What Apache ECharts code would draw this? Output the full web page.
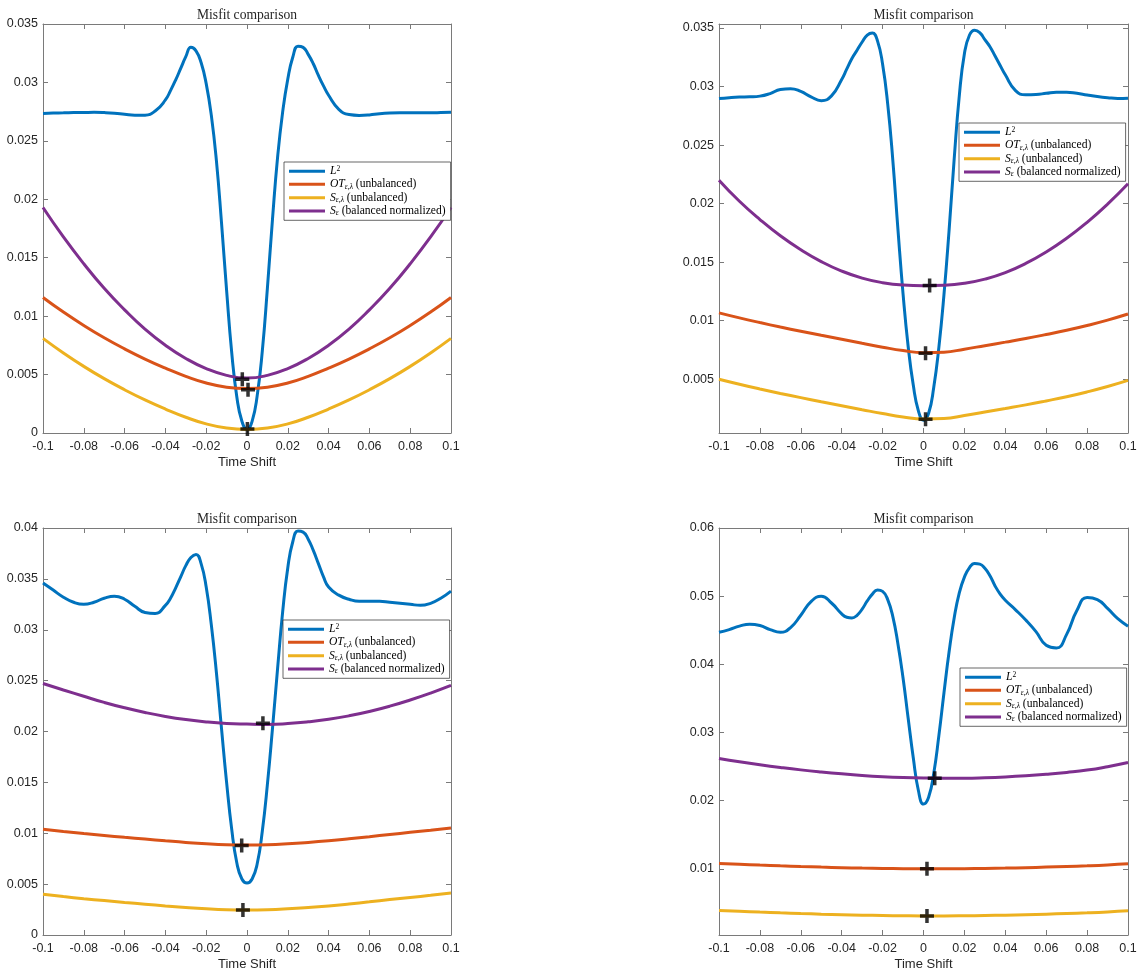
<!DOCTYPE html>
<html><head><meta charset="utf-8">
<script src="https://cdn.jsdelivr.net/npm/echarts@6/dist/echarts.min.js"></script>
<style>html,body{margin:0;padding:0;background:#fff}#c{width:1141px;height:972px}</style>
</head><body><div id="c"></div>
<script>
// ---------- x samples ----------
const xL2 = [-0.1,-0.095,-0.09,-0.085,-0.08,-0.075,-0.07,-0.065,-0.06,-0.055,-0.05,-0.045,-0.04,
  -0.0375,-0.035,-0.0325,-0.03,-0.0275,-0.025,-0.0225,-0.02,-0.0175,-0.015,-0.0125,-0.01,-0.0075,-0.005,-0.0025,0,
  0.0025,0.005,0.0075,0.01,0.0125,0.015,0.0175,0.02,0.0225,0.025,0.0275,0.03,0.0325,0.035,0.0375,
  0.04,0.045,0.05,0.055,0.06,0.065,0.07,0.075,0.08,0.085,0.09,0.095,0.1];
const xCoarse = [-0.1,-0.09,-0.08,-0.07,-0.06,-0.05,-0.04,-0.03,-0.02,-0.01,0,0.01,0.02,0.03,0.04,0.05,0.06,0.07,0.08,0.09,0.1];
const xTicks = [-0.1,-0.08,-0.06,-0.04,-0.02,0,0.02,0.04,0.06,0.08,0.1];

// ---------- panel 1 (top-left) ----------
const p1_L2 = [0.02735,0.02738,0.0274,0.02742,0.02743,0.02744,0.02742,0.02737,0.02728,0.0272,0.0272,0.02755,0.0285,
  0.0293,0.0302,0.0312,0.0322,0.0330,0.0327,0.0317,0.0299,0.0272,0.0233,0.0180,0.0122,0.0069,0.0031,0.0010,0.0003,
  0.0010,0.0032,0.0070,0.0124,0.0183,0.0236,0.0275,0.0303,0.0322,0.0331,0.0330,0.0324,0.0316,0.0306,0.0297,
  0.0289,0.0277,0.02725,0.02718,0.02722,0.02732,0.02738,0.0274,0.0274,0.0274,0.0274,0.02742,0.02745];
const p1_OT = [0.0116,0.01035,0.0092,0.00815,0.0072,0.00633,0.00555,0.00485,0.00428,0.00392,0.0038,0.00392,0.00428,0.00485,0.00555,0.00633,0.0072,0.00815,0.0092,0.01035,0.0116];
const p1_S  = [0.0081,0.00685,0.0057,0.00465,0.0037,0.00283,0.00205,0.00135,0.00078,0.00042,0.0003,0.00042,0.00078,0.00135,0.00205,0.00283,0.0037,0.00465,0.0057,0.00685,0.0081];
const p1_Se = [0.0193,0.01678,0.01448,0.01238,0.01054,0.00889,0.00751,0.00638,0.00551,0.00493,0.0047,0.00493,0.00551,0.00638,0.00751,0.00889,0.01054,0.01238,0.01448,0.01678,0.0193];
const p1_markX = [-0.0023,0.0005,0.0002];
const p1_markY = [0.0046,0.0037,0.00034];
const p1_yTicks = [0,0.005,0.01,0.015,0.02,0.025,0.03,0.035];

// ---------- panel 2 (top-right) ----------
const p2_L2 = [0.02898,0.02905,0.0291,0.02912,0.02918,0.0294,0.02975,0.02982,0.02958,0.02912,0.02879,0.0292,0.0306,
  0.0315,0.0324,0.0331,0.0338,0.0344,0.03457,0.0339,0.0319,0.0285,0.0237,0.0178,0.0123,0.0078,0.0045,0.0023,0.0015,
  0.0021,0.0043,0.0077,0.0122,0.0177,0.0238,0.0292,0.0328,0.0344,0.0348,0.0346,0.0340,0.0334,0.0326,0.0318,
  0.0310,0.02965,0.0293,0.02932,0.02942,0.02952,0.02952,0.02942,0.02928,0.02915,0.02905,0.02898,0.029];
const p2_OT = [0.01067,0.01024,0.00984,0.00946,0.0091,0.00875,0.00841,0.00807,0.00774,0.00745,0.00727,0.00731,0.00757,0.00787,0.00817,0.00848,0.00882,0.00918,0.00959,0.01005,0.01057];
const p2_S  = [0.0050,0.00457,0.00417,0.00379,0.00343,0.00308,0.00274,0.0024,0.00207,0.00178,0.0016,0.00164,0.0019,0.0022,0.0025,0.00281,0.00315,0.00351,0.00392,0.00438,0.0049];
const p2_Se = [0.0220,0.0202,0.01864,0.01725,0.01606,0.01505,0.01424,0.01364,0.01325,0.01304,0.01298,0.01302,0.01319,0.01355,0.01411,0.01489,0.01587,0.01704,0.0184,0.01995,0.02169];
const p2_markX = [0.003,0.001,0.001];
const p2_markY = [0.0130,0.00722,0.00158];
const p2_yTicks = [0.005,0.01,0.015,0.02,0.025,0.03,0.035];

// ---------- panel 3 (bottom-left) ----------
const p3_L2 = [0.0346,0.0339,0.0332,0.0327,0.0325,0.0327,0.0331,0.0333,0.0330,0.0323,0.0317,0.0316,0.0324,
  0.0331,0.0341,0.0352,0.0363,0.0371,0.0374,0.0365,0.0342,0.0305,0.0258,0.0203,0.0150,0.0104,0.0071,0.0055,0.0051,
  0.0055,0.0070,0.0102,0.0148,0.0203,0.0262,0.0318,0.0361,0.0387,0.0397,0.0396,0.0389,0.0378,0.0365,0.0352,
  0.0342,0.0334,0.0330,0.0328,0.0328,0.0328,0.0327,0.0326,0.0325,0.0324,0.0326,0.0331,0.0338];
const p3_OT = [0.0104,0.01018,0.00997,0.00978,0.0096,0.00943,0.00926,0.0091,0.00897,0.00888,0.00885,0.00888,0.00897,0.0091,0.00926,0.00945,0.00966,0.00988,0.01009,0.0103,0.01052];
const p3_S  = [0.0040,0.00378,0.00357,0.00338,0.0032,0.00303,0.00286,0.0027,0.00257,0.00248,0.00245,0.00248,0.00257,0.0027,0.00286,0.00305,0.00326,0.00348,0.00369,0.0039,0.00412];
const p3_Se = [0.02472,0.02408,0.02346,0.02286,0.02233,0.02187,0.02148,0.02117,0.02094,0.02079,0.02073,0.0207,0.02078,0.02095,0.0212,0.02154,0.02197,0.02249,0.0231,0.02378,0.02453];
const p3_markX = [0.0078,-0.0026,-0.002];
const p3_markY = [0.0208,0.0088,0.00245];
const p3_yTicks = [0,0.005,0.01,0.015,0.02,0.025,0.03,0.035,0.04];

// ---------- panel 4 (bottom-right) ----------
const p4_L2 = [0.0447,0.0451,0.0456,0.0459,0.0457,0.0451,0.0447,0.0454,0.0472,0.0492,0.0500,0.0490,0.0474,
  0.0469,0.0468,0.0472,0.0481,0.0493,0.0503,0.0509,0.0507,0.0495,0.0470,0.0430,0.0380,0.0321,0.0263,0.0215,0.0195,
  0.0205,0.0240,0.0295,0.0358,0.0418,0.0468,0.0505,0.0528,0.0542,0.0548,0.0547,0.0541,0.0530,0.0515,0.0503,
  0.0494,0.0480,0.0465,0.0448,0.0428,0.0424,0.0444,0.0479,0.0498,0.0495,0.0482,0.0467,0.0456];
const p4_OT = [0.0108,0.01068,0.01056,0.01045,0.01035,0.01026,0.01018,0.01011,0.01006,0.01002,0.01,0.01,0.01002,0.01006,0.01011,0.01018,0.01026,0.01035,0.01045,0.01058,0.01075];
const p4_S  = [0.0039,0.00378,0.00366,0.00355,0.00345,0.00336,0.00328,0.00321,0.00316,0.00312,0.0031,0.0031,0.00312,0.00316,0.00321,0.00328,0.00336,0.00345,0.00355,0.00368,0.00385];
const p4_Se = [0.0262,0.02572,0.02528,0.02488,0.02452,0.02421,0.02394,0.02371,0.02353,0.0234,0.02332,0.02329,0.0233,0.02337,0.02349,0.02366,0.02388,0.02415,0.02449,0.02499,0.0256];
const p4_markX = [0.0055,0.0017,0.0017];
const p4_markY = [0.0233,0.0100,0.0031];
const p4_yTicks = [0.01,0.02,0.03,0.04,0.05,0.06];

const titleText = 'Misfit comparison';
const xName = 'Time Shift';
const seriesNames = ['L2','OT','S','Se'];
const colors = ['#0072BD','#D95319','#EDB120','#7E2F8E'];

const panels = [
  {L2:p1_L2, OT:p1_OT, S:p1_S, Se:p1_Se, mx:p1_markX, my:p1_markY, yt:p1_yTicks, ymin:0, ymax:0.035,
   grid:{left:43,top:24,width:408,height:409}, leg:{left:284,top:162}},
  {L2:p2_L2, OT:p2_OT, S:p2_S, Se:p2_Se, mx:p2_markX, my:p2_markY, yt:p2_yTicks, ymin:0.00041, ymax:0.03534,
   grid:{left:719,top:24,width:409,height:409}, leg:{left:959,top:123}},
  {L2:p3_L2, OT:p3_OT, S:p3_S, Se:p3_Se, mx:p3_markX, my:p3_markY, yt:p3_yTicks, ymin:0, ymax:0.04,
   grid:{left:43,top:528,width:408,height:408}, leg:{left:283,top:620}},
  {L2:p4_L2, OT:p4_OT, S:p4_S, Se:p4_Se, mx:p4_markX, my:p4_markY, yt:p4_yTicks, ymin:0.0003, ymax:0.06,
   grid:{left:719,top:528,width:409,height:408}, leg:{left:960,top:668}}
];

const axisCol = '#7a7a7a';
const txtCol = '#262626';
const sansFont = 'Liberation Sans, Arial, sans-serif';
const serifFont = 'Liberation Serif, Times New Roman, serif';
const fmt = v => String(parseFloat(Number(v).toFixed(4)));

const grids = [], xAxes = [], yAxes = [], series = [], legends = [];
const legendNames = {
  L2: '{i|L}{sup|2}',
  OT: '{i|OT}{sub|ε,λ}{n| (unbalanced)}',
  S:  '{i|S}{sub|ε,λ}{n| (unbalanced)}',
  Se: '{i|S}{sub|ε}{n| (balanced normalized)}'
};
const plusPath = 'path://M4.5,0H7.5V4.5H12V7.5H7.5V12H4.5V7.5H0V4.5H4.5Z';
const lf = 11.6;

panels.forEach((p, gi) => {
  grids.push(Object.assign({containLabel:false}, p.grid));
  const common = {type:'value', gridIndex:gi, min:-0.1, max:0.1, splitLine:{show:false},
    axisLine:{show:true, onZero:false, lineStyle:{color:axisCol, width:1}},
    axisTick:{show:true, inside:true, length:5, lineStyle:{color:axisCol}, customValues:xTicks}};
  xAxes.push(Object.assign({}, common, {position:'bottom',
    axisLabel:{show:true, customValues:xTicks, formatter:fmt, color:txtCol, fontSize:12.5, fontFamily:sansFont, margin:7},
    name:xName, nameLocation:'middle', nameGap:23,
    nameTextStyle:{color:txtCol, fontSize:13, fontFamily:sansFont}}));
  xAxes.push(Object.assign({}, common, {position:'top', axisLabel:{show:false},
    name:titleText, nameLocation:'middle', nameGap:2,
    nameTextStyle:{color:txtCol, fontSize:13.6, fontFamily:serifFont}}));
  const ycommon = {type:'value', gridIndex:gi, min:p.ymin, max:p.ymax, splitLine:{show:false},
    axisLine:{show:true, onZero:false, lineStyle:{color:axisCol, width:1}},
    axisTick:{show:true, inside:true, length:5, lineStyle:{color:axisCol}, customValues:p.yt}};
  yAxes.push(Object.assign({}, ycommon, {position:'left',
    axisLabel:{show:true, customValues:p.yt, formatter:fmt, color:txtCol, fontSize:12.5, fontFamily:sansFont, margin:5}}));
  yAxes.push(Object.assign({}, ycommon, {position:'right', axisLabel:{show:false}}));

  seriesNames.forEach((nm, si) => {
    const xs = nm === 'L2' ? xL2 : xCoarse;
    const ys = p[nm];
    series.push({type:'line', name:nm, xAxisIndex:gi*2, yAxisIndex:gi*2,
      data: xs.map((x,i)=>[x, ys[i]]), showSymbol:false, symbol:'none', smooth:0.5,
      color:colors[si], lineStyle:{width:3, color:colors[si]}, itemStyle:{color:colors[si]},
      z: 2+si*0.1, silent:true, clip:true});
  });
  series.push({type:'scatter', name:'min', xAxisIndex:gi*2, yAxisIndex:gi*2,
    data: p.mx.map((x,i)=>[x, p.my[i]]), symbol:plusPath, symbolSize:14,
    itemStyle:{color:'#000'}, z:5, silent:true});

  legends.push({show:true, orient:'vertical', left:p.leg.left, top:p.leg.top,
    data:seriesNames, selectedMode:false, icon:'rect', itemWidth:36, itemHeight:3, itemGap:1.1,
    padding:[3,5,3,5], backgroundColor:'#fff', borderColor:'#262626', borderWidth:0.7, borderRadius:0,
    formatter: n => legendNames[n],
    textStyle:{color:'#000', fontFamily:serifFont, fontSize:lf,
      rich:{
        i:{fontStyle:'italic', fontFamily:serifFont, fontSize:lf, lineHeight:12.5},
        n:{fontFamily:serifFont, fontSize:lf, lineHeight:12.5},
        sub:{fontStyle:'italic', fontFamily:serifFont, fontSize:7.5, lineHeight:12.5, verticalAlign:'bottom', padding:[4,0,0,0]},
        sup:{fontFamily:serifFont, fontSize:7.5, lineHeight:12.5, verticalAlign:'top', padding:[0,0,4,0]}
      }}});
});

const chart = echarts.init(document.getElementById('c'), null, {renderer:'canvas'});
chart.setOption({animation:false, backgroundColor:'#fff', grid:grids, xAxis:xAxes, yAxis:yAxes, series, legend:legends});
</script></body></html>
